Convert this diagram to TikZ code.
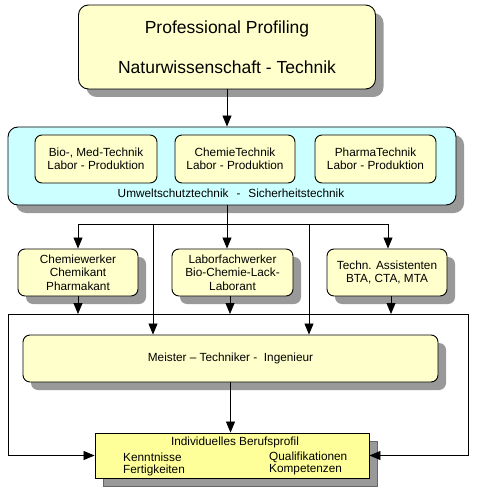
\documentclass[tikz,border=0pt]{standalone}
\usepackage{fontspec}
\setmainfont{Liberation Sans}
\usetikzlibrary{shadows,arrows.meta,calc}
\definecolor{paleyel}{HTML}{FFFFCC}
\definecolor{paleyel2}{HTML}{FFFF99}
\definecolor{palecyan}{HTML}{CCFFFF}
\definecolor{shadgray}{HTML}{999999}
\tikzset{
  shad/.style={drop shadow={shadow xshift=8pt,shadow yshift=-8pt,fill=shadgray,opacity=1}},
  shadout/.style={drop shadow={shadow xshift=8pt,shadow yshift=-8pt,fill=shadgray,draw=black!60,opacity=1}},
  box/.style={draw=black,line width=0.9pt,rounded corners=7pt,fill=paleyel,align=center,inner sep=0pt,
     font=\fontsize{11.8}{13.5}\selectfont},
  conn/.style={line width=0.8pt,draw=black},
  arr/.style={conn,-{Triangle[width=9pt,length=11pt]}},
}
\begin{document}
\begin{tikzpicture}[x=1pt,y=-1pt]
\useasboundingbox (0,0) rectangle (478,489);
% top box
\node[box,shad,rounded corners=10pt,minimum width=297pt,minimum height=84pt,
      font=\fontsize{17.5}{40}\selectfont] (top) at (227,47)
      {Professional Profiling\\Naturwissenschaft - Technik};
% cyan box
\node[box,shad,fill=palecyan,rounded corners=10pt,minimum width=448pt,minimum height=78pt] (cyan) at (232,166) {};
\node[box] (b1) at (96,159) [minimum width=122pt,minimum height=48pt] {Bio-, Med-Technik\\Labor - Produktion};
\node[box] (b2) at (235,159) [minimum width=120pt,minimum height=48pt] {ChemieTechnik\\Labor - Produktion};
\node[box] (b3) at (375.5,159) [minimum width=121pt,minimum height=48pt] {PharmaTechnik\\Labor - Produktion};
\node[font=\fontsize{11.8}{13.5}\selectfont,inner sep=0pt] (umw) at (231,193)
  {Umweltschutztechnik\hspace{8pt}-\hspace{8pt}Sicherheitstechnik};
% row boxes
\node[box,shad,minimum width=120pt,minimum height=47pt] (r1) at (78,272.5) {Chemiewerker\\Chemikant\\Pharmakant};
\node[box,shad,minimum width=121pt,minimum height=47pt] (r2) at (232.5,272.5) {Laborfachwerker\\Bio-Chemie-Lack-\\Laborant};
\node[box,shad,minimum width=120pt,minimum height=47pt] (r3) at (387,272.5) {Techn. Assistenten\\BTA, CTA, MTA};
% Meister
\node[box,shad,minimum width=415pt,minimum height=47pt] (mei) at (230.5,358.5) {Meister -- Techniker -\ \ Ingenieur};
% bottom
\node[draw=black,line width=0.9pt,fill=paleyel2,shadout,minimum width=274pt,minimum height=45pt,inner sep=0pt] (bot) at (232,455.5) {};
\node[font=\fontsize{11.8}{13.5}\selectfont,inner sep=0pt] (bt1) at (235,442) {Individuelles Berufsprofil};
\node[font=\fontsize{11.8}{13.5}\selectfont,inner sep=0pt,anchor=west] (bt2) at (123,457) {Kenntnisse};
\node[font=\fontsize{11.8}{13.5}\selectfont,inner sep=0pt,anchor=west] (bt3) at (269,457) {Qualifikationen};
\node[font=\fontsize{11.8}{13.5}\selectfont,inner sep=0pt,anchor=west] (bt4) at (123,470) {Fertigkeiten};
\node[font=\fontsize{11.8}{13.5}\selectfont,inner sep=0pt,anchor=west] (bt5) at (269,470) {Kompetenzen};
% coordinates
\coordinate (jc) at (227,224);
\coordinate (jl) at (78,224);
\coordinate (jr) at (388,224);
\coordinate (ja) at (153,224);
\coordinate (jb) at (309,224);
\coordinate (ol) at (8,314);
\coordinate (or) at (468,314);
\coordinate (oll) at (8,455.5);
\coordinate (orl) at (468,455.5);
% connectors
\draw[arr] (top.south) -- (top.south |- cyan.north);
\draw[conn] (cyan.south -| jc) -- (jc);
\draw[conn] (jl) -- (jr);
\draw[arr] (jl) -- (jl |- r1.north);
\draw[arr] (jc) -- (jc |- r2.north);
\draw[arr] (jr) -- (jr |- r3.north);
\draw[arr] (ja) -- (ja |- mei.north);
\draw[arr] (jb) -- (jb |- mei.north);
\draw[conn] (oll) -- (ol) -- (or) -- (orl);
\draw[arr] (r1.south) -- (r1.south |- ol);
\draw[arr] (r2.south -| 230,0) -- (230,314);
\draw[arr] (r3.south -| 391,0) -- (391,314);
\draw[arr] (oll) -- (bot.west);
\draw[arr] (orl) -- (bot.east);
\draw[arr] (mei.south) -- (mei.south |- bot.north);
\end{tikzpicture}
\end{document}
